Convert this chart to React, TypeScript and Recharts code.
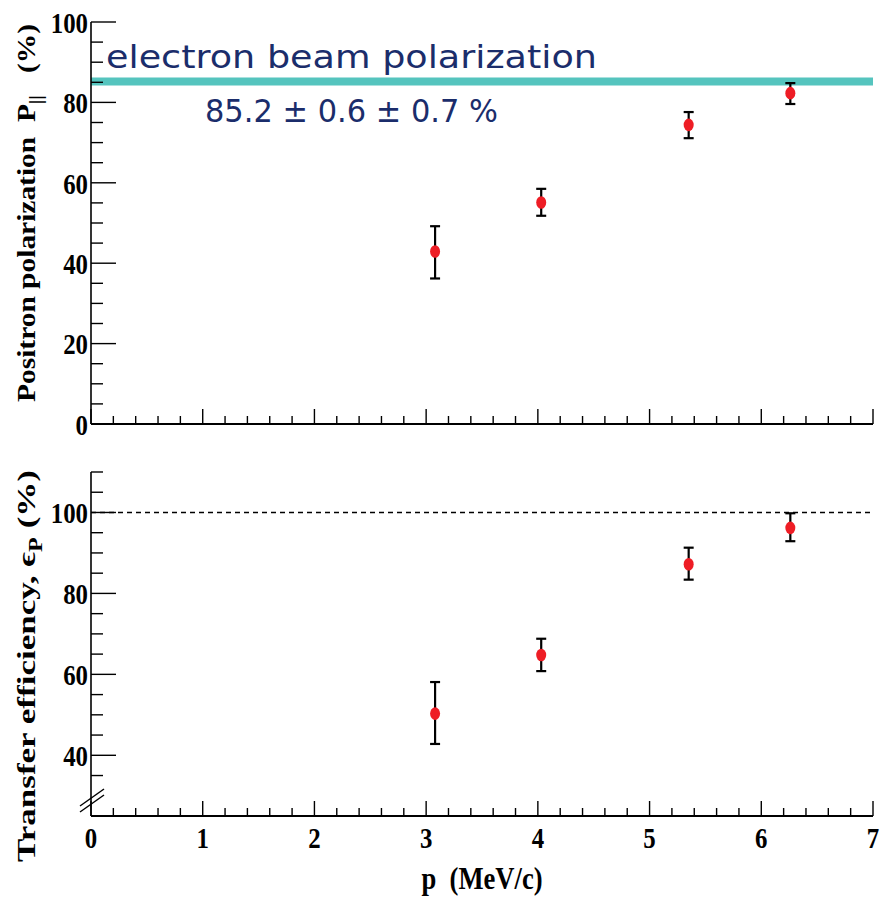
import React from 'react';
import { ScatterChart, Scatter, XAxis, YAxis, ErrorBar, ReferenceLine } from 'recharts';

// ---- data ----
const momentum = [3.08, 4.03, 5.35, 6.26];
const positronPol = [42.9, 55.1, 74.4, 82.3];
const positronPolErrLow = [6.7, 3.3, 3.3, 2.7];
const positronPolErrHigh = [6.3, 3.4, 3.2, 2.5];
const transferEff = [50.3, 64.8, 87.2, 96.2];
const transferEffErrLow = [7.5, 4.0, 3.8, 3.3];
const transferEffErrHigh = [7.8, 4.0, 4.1, 3.6];
const electronBeamPol = 85.2;

const xMajorTicks = [0, 1, 2, 3, 4, 5, 6, 7];
const topYMajorTicks = [0, 20, 40, 60, 80, 100];
const bottomYMajorTicks = [40, 60, 80, 100];

const xTicks: number[] = [];
for (let i = 0; i <= 35; i++) xTicks.push(Math.round(i * 2) / 10);
const topYTicks: number[] = [];
for (let v = 0; v <= 100; v += 5) topYTicks.push(v);
const bottomYTicks: number[] = [];
for (let v = 35; v <= 110; v += 5) bottomYTicks.push(v);

const topRows = momentum.map((x, i) => ({ x, y: positronPol[i], err: [positronPolErrLow[i], positronPolErrHigh[i]] }));
const bottomRows = momentum.map((x, i) => ({ x, y: transferEff[i], err: [transferEffErrLow[i], transferEffErrHigh[i]] }));

const SERIF = '"Liberation Serif", "Times New Roman", serif';
const NAVY = '#1b2d6b';
const NB = '\u00a0';

const isMember = (v: number, arr: number[]) => arr.some((a) => Math.abs(a - v) < 1e-6);

const makeYTick = (majors: number[]) => (props: any) => {
  const { x, y, payload } = props;
  const v = payload.value;
  const major = isMember(v, majors);
  return (
    <g>
      <line x1={x} x2={x + (major ? 25 : 12)} y1={y} y2={y} stroke="#000" strokeWidth={1.4} />
      {major && (
        <text
          transform={`translate(${x - 3}, ${y}) scale(0.92, 1.12)`}
          dy="0.36em"
          textAnchor="end"
          fontFamily={SERIF}
          fontWeight="bold"
          fontSize={27}
          fill="#000"
        >
          {v}
        </text>
      )}
    </g>
  );
};

const makeXTick = (showLabels: boolean) => (props: any) => {
  const { x, y, payload } = props;
  const v = payload.value;
  const major = isMember(v, xMajorTicks);
  return (
    <g>
      <line x1={x} x2={x} y1={y} y2={y - (major ? 15 : 8)} stroke="#000" strokeWidth={1.4} />
      {showLabels && major && (
        <text
          transform={`translate(${x}, ${y + 32}) scale(0.92, 1.12)`}
          textAnchor="middle"
          fontFamily={SERIF}
          fontWeight="bold"
          fontSize={27}
          fill="#000"
        >
          {v}
        </text>
      )}
    </g>
  );
};

const Dot = (props: any) => {
  const { cx, cy } = props;
  if (cx == null || cy == null) return null;
  return <ellipse cx={cx} cy={cy} rx={5} ry={6.3} fill="#ee1d25" />;
};

export default function App() {
  return (
    <div style={{ position: 'absolute', left: 0, top: 0, width: 880, height: 898, background: '#fff' }}>
      <div style={{ position: 'absolute', left: 0, top: 0 }}>
        <ScatterChart width={880} height={450} margin={{ top: 22, right: 7, bottom: 0, left: 0 }}>
          <XAxis
            type="number"
            dataKey="x"
            domain={[0, 7]}
            ticks={xTicks}
            interval={0}
            height={26}
            tickSize={0}
            tickMargin={0}
            tickLine={false}
            axisLine={{ stroke: '#000', strokeWidth: 2 }}
            tick={makeXTick(false)}
            allowDataOverflow
          />
          <YAxis
            type="number"
            dataKey="y"
            domain={[0, 100]}
            ticks={topYTicks}
            interval={0}
            width={91}
            tickSize={0}
            tickMargin={0}
            tickLine={false}
            axisLine={{ stroke: '#000', strokeWidth: 1.6 }}
            tick={makeYTick(topYMajorTicks)}
            allowDataOverflow
          />
          <ReferenceLine y={electronBeamPol} stroke="#55c4be" strokeWidth={8} ifOverflow="extendDomain" />
          <Scatter data={topRows} shape={<Dot />} isAnimationActive={false}>
            <ErrorBar dataKey="err" direction="y" width={5} strokeWidth={2.2} stroke="#000" isAnimationActive={false} />
          </Scatter>
        </ScatterChart>
      </div>
      <div style={{ position: 'absolute', left: 0, top: 450 }}>
        <ScatterChart width={880} height={448} margin={{ top: 22, right: 7, bottom: 0, left: 0 }}>
          <XAxis
            type="number"
            dataKey="x"
            domain={[0, 7]}
            ticks={xTicks}
            interval={0}
            height={82}
            tickSize={0}
            tickMargin={0}
            tickLine={false}
            axisLine={{ stroke: '#000', strokeWidth: 2 }}
            tick={makeXTick(true)}
            allowDataOverflow
          />
          <YAxis
            type="number"
            dataKey="y"
            domain={[25, 110]}
            ticks={bottomYTicks}
            interval={0}
            width={91}
            tickSize={0}
            tickMargin={0}
            tickLine={false}
            axisLine={{ stroke: '#000', strokeWidth: 1.6 }}
            tick={makeYTick(bottomYMajorTicks)}
            allowDataOverflow
          />
          <ReferenceLine y={100} stroke="#000" strokeWidth={1.4} strokeDasharray="5 4" />
          <Scatter data={bottomRows} shape={<Dot />} isAnimationActive={false}>
            <ErrorBar dataKey="err" direction="y" width={5} strokeWidth={2.2} stroke="#000" isAnimationActive={false} />
          </Scatter>
        </ScatterChart>
      </div>
      <svg width={880} height={898} style={{ position: 'absolute', left: 0, top: 0, pointerEvents: 'none' }}>
        <text x={106} y={68} fontFamily='"DejaVu Sans", sans-serif' fontSize={32} fill={NAVY} textLength={491} lengthAdjust="spacingAndGlyphs">
          electron beam polarization
        </text>
        <text x={205} y={122} fontFamily='"DejaVu Sans", sans-serif' fontSize={32} fill={NAVY} textLength={293} lengthAdjust="spacingAndGlyphs">
          85.2 ± 0.6 ± 0.7 %
        </text>
        <text
          transform="translate(35, 402) rotate(-90)"
          fontFamily={SERIF}
          fontWeight="bold"
          fontSize={26}
          fill="#000"
          textLength={378}
          lengthAdjust="spacingAndGlyphs"
        >
          {`Positron polarization${NB}${NB}P`}
          <tspan fontSize={18} dy={7}>||</tspan>
          <tspan dy={-7}>{`${NB}${NB}${NB}(%)`}</tspan>
        </text>
        <text
          transform="translate(35, 862) rotate(-90)"
          fontFamily={SERIF}
          fontWeight="bold"
          fontSize={26}
          fill="#000"
          textLength={392}
          lengthAdjust="spacingAndGlyphs"
        >
          {'Transfer efficiency, ϵ'}
          <tspan fontSize={18} dy={7}>P</tspan>
          <tspan dy={-7}>{`${NB}(%)`}</tspan>
        </text>
        <text
          transform="translate(482, 889) scale(0.95, 1.12)"
          textAnchor="middle"
          fontFamily={SERIF}
          fontWeight="bold"
          fontSize={28}
          fill="#000"
        >
          {`p${NB}${NB}(MeV/c)`}
        </text>
        <line x1={80} y1={812} x2={104} y2={795} stroke="#000" strokeWidth={1.5} />
        <line x1={80} y1={806} x2={104} y2={789} stroke="#000" strokeWidth={1.5} />
      </svg>
    </div>
  );
}
